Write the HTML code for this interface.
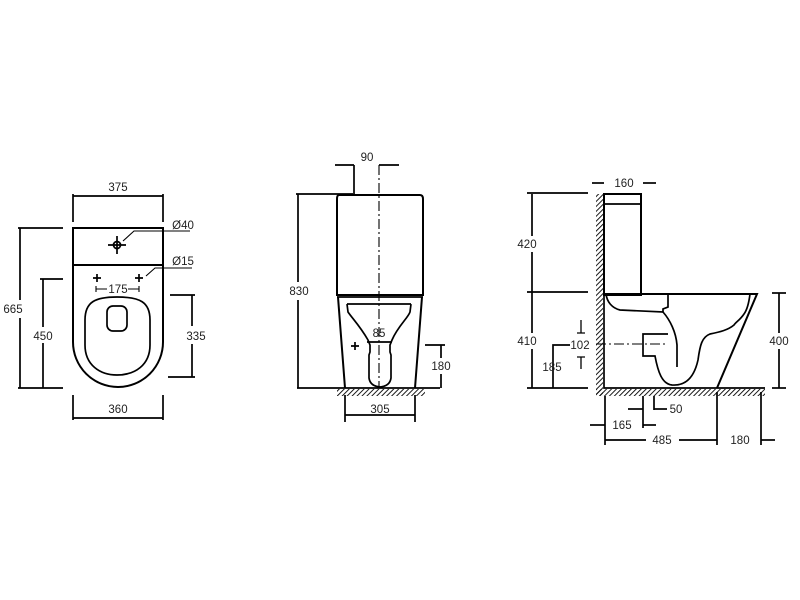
<!DOCTYPE html>
<html><head><meta charset="utf-8"><style>
html,body{margin:0;padding:0;background:#fff;}
svg{display:block;}
text{font-family:"Liberation Sans",Arial,sans-serif;font-size:11.5px;fill:#222;}
</style></head><body>
<svg width="800" height="600" viewBox="0 0 800 600" xmlns="http://www.w3.org/2000/svg">
<defs>
<pattern id="h" width="3.5" height="3.5" patternUnits="userSpaceOnUse" patternTransform="rotate(45)">
<line x1="0" y1="0" x2="0" y2="3.5" stroke="#000" stroke-width="1.8"/>
</pattern>
</defs>
<g fill="none" stroke="#000" stroke-width="1.7">
<!-- LEFT VIEW -->
<line x1="73" y1="196" x2="163" y2="196"/>
<line x1="73" y1="194" x2="73" y2="222"/>
<line x1="163" y1="194" x2="163" y2="222"/>
<rect x="73" y="228" width="90" height="37" stroke-width="2"/>
<path d="M73 265 V342 A45 45 0 0 0 163 342 V265" stroke-width="2"/>
<path d="M117 297 C140 297 150 302 150 320 V345 C150 365 135 375 117 375 C100 375 85 365 85 345 V320 C85 302 95 297 117 297 Z"/>
<rect x="107" y="306" width="20" height="25" rx="6"/>
<circle cx="117" cy="245" r="3.5"/>
<line x1="108" y1="245" x2="126" y2="245"/><line x1="117" y1="236" x2="117" y2="254"/>
<path d="M123 241 L134 231 H190" stroke-width="1.1"/>
<path d="M146 276 L155 268 H192" stroke-width="1.1"/>
<path d="M93 278h8M97 274v8M135 278h8M139 274v8"/>
<path d="M96 289h11M128 289h11M96 286v6M139 286v6" stroke-width="1.1"/>
<line x1="20" y1="228" x2="20" y2="300"/><line x1="20" y1="318" x2="20" y2="388"/>
<line x1="18" y1="228" x2="63" y2="228"/><line x1="18" y1="388" x2="63" y2="388"/>
<line x1="43" y1="279" x2="43" y2="327"/><line x1="43" y1="343" x2="43" y2="388"/>
<line x1="40" y1="279" x2="63" y2="279"/>
<line x1="192" y1="295" x2="192" y2="326"/><line x1="192" y1="344" x2="192" y2="377"/>
<line x1="170" y1="295" x2="195" y2="295"/><line x1="168" y1="377" x2="195" y2="377"/>
<line x1="73" y1="418" x2="163" y2="418"/>
<line x1="73" y1="395" x2="73" y2="420"/><line x1="163" y1="395" x2="163" y2="420"/>

<!-- MIDDLE VIEW -->
<line x1="354" y1="165" x2="354" y2="193"/>
<line x1="335" y1="165" x2="354" y2="165"/><line x1="379" y1="165" x2="399" y2="165"/>
<line x1="379" y1="165" x2="379" y2="388" stroke-width="1.1" stroke-dasharray="10,3,2,3"/>
<path d="M339 195 H420 Q423 195 423 199 V295 H337 V199 Q337 195 339 195 Z" stroke-width="2"/>
<line x1="337" y1="297" x2="423" y2="297"/>
<path d="M338 297 L345 388 M422 297 L415 388" stroke-width="2"/>
<path d="M347 304 H411 M347 304 L348 312 C352 318 360 326 368 340 L370 345 L370 352 L369 355 V378 Q370 386 380 387 Q390 386 391 378 V355 L390 352 L390 345 L392 340 C398 326 408 318 410 312 L411 304"/>
<line x1="367" y1="342" x2="392" y2="342"/>
<path d="M351 346h8M355 342v8"/>
<line x1="297" y1="388" x2="440" y2="388"/>
<line x1="298" y1="194" x2="298" y2="282"/><line x1="298" y1="300" x2="298" y2="388"/>
<line x1="296" y1="194" x2="355" y2="194"/>
<line x1="441" y1="345" x2="441" y2="358"/><line x1="441" y1="374" x2="441" y2="388"/>
<line x1="425" y1="345" x2="445" y2="345"/>
<line x1="345" y1="395" x2="345" y2="422"/><line x1="415" y1="395" x2="415" y2="422"/>
<line x1="345" y1="415" x2="415" y2="415"/>

<!-- RIGHT VIEW -->
<line x1="592" y1="183" x2="604" y2="183"/><line x1="643" y1="183" x2="656" y2="183"/>
<rect x="604" y="194" width="37" height="101" stroke-width="2"/>
<line x1="604" y1="204" x2="641" y2="204"/>
<path d="M604 294 H757 L717 388" stroke-width="2"/>
<path d="M604 294 L604 388 H765"/>
<path d="M606 294 C607 302 612 308 620 310 L663 312 L663 309 L668 307 V294"/>
<path d="M663 312 C670 320 676 332 677 345 V367"/>
<path d="M750 294 C749 302 747 310 744 314 C740 320 736 322 734 325 C728 330 720 332 710 334 C702 337 700 345 698 360 C694 378 685 386 672 385 C662 384 658 372 655 356 H643 V334 H668"/>
<line x1="596" y1="344" x2="668" y2="344" stroke-width="1.1" stroke-dasharray="10,3,2,3"/>
<line x1="532" y1="194" x2="532" y2="236"/><line x1="532" y1="252" x2="532" y2="292"/>
<line x1="527" y1="193" x2="588" y2="193"/><line x1="527" y1="292" x2="588" y2="292"/>
<line x1="532" y1="292" x2="532" y2="333"/><line x1="532" y1="349" x2="532" y2="388"/>
<line x1="527" y1="388" x2="588" y2="388"/>
<line x1="779" y1="293" x2="779" y2="333"/><line x1="779" y1="349" x2="779" y2="388"/>
<line x1="772" y1="293" x2="786" y2="293"/><line x1="772" y1="388" x2="786" y2="388"/>
<path d="M553 388 V345 H570"/>
<path d="M581 320 V333 M577 333 H585 M581 357 V369 M577 357 H585" stroke-width="1.3"/>
<line x1="605" y1="396" x2="605" y2="445"/>
<line x1="643" y1="396" x2="643" y2="428"/>
<line x1="654" y1="396" x2="654" y2="410"/>
<line x1="717" y1="392" x2="717" y2="445"/>
<line x1="761" y1="392" x2="761" y2="445"/>
<line x1="628" y1="409" x2="643" y2="409"/><line x1="654" y1="409" x2="667" y2="409"/>
<line x1="590" y1="425" x2="605" y2="425"/><line x1="643" y1="425" x2="656" y2="425"/>
<line x1="605" y1="440" x2="646" y2="440"/><line x1="679" y1="440" x2="717" y2="440"/>
<line x1="761" y1="440" x2="775" y2="440"/>
</g>
<rect x="337" y="389" width="88" height="7" fill="url(#h)"/>
<rect x="596" y="194" width="7" height="202" fill="url(#h)"/>
<rect x="596" y="389" width="169" height="7" fill="url(#h)"/>

<g text-anchor="middle">
<text x="118" y="191">375</text>
<text x="183" y="229">Ø40</text>
<text x="183" y="265">Ø15</text>
<text x="118" y="293">175</text>
<text x="13" y="313">665</text>
<text x="43" y="340">450</text>
<text x="196" y="340">335</text>
<text x="118" y="413">360</text>
<text x="367" y="161">90</text>
<text x="299" y="295">830</text>
<text x="379" y="337">85</text>
<text x="441" y="370">180</text>
<text x="380" y="413">305</text>
<text x="624" y="187">160</text>
<text x="527" y="248">420</text>
<text x="527" y="345">410</text>
<text x="779" y="345">400</text>
<text x="580" y="349">102</text>
<text x="552" y="371">185</text>
<text x="676" y="413">50</text>
<text x="622" y="429">165</text>
<text x="662" y="444">485</text>
<text x="740" y="444">180</text>
</g>
</svg>
</body></html>
